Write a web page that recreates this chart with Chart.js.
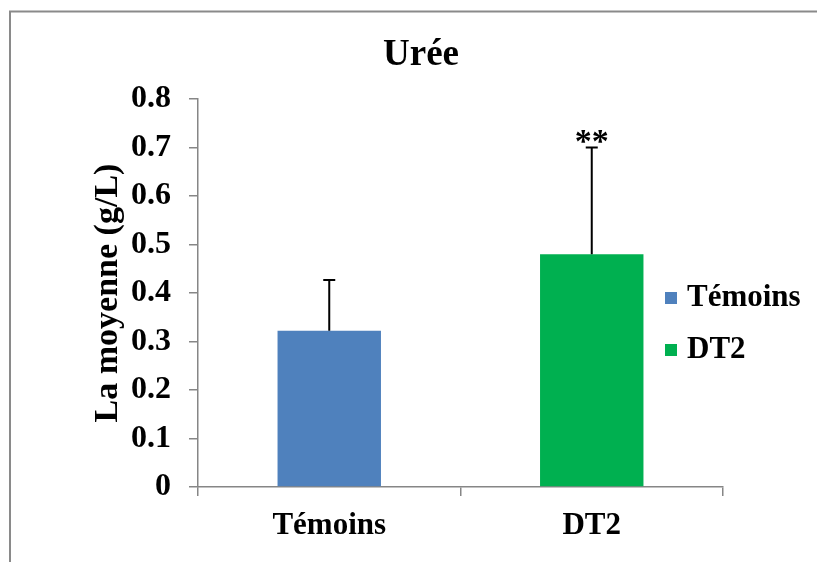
<!DOCTYPE html>
<html>
<head>
<meta charset="utf-8">
<script src="https://cdn.jsdelivr.net/npm/chart.js@4.4.1/dist/chart.umd.min.js"></script>
<style>
  html, body { margin: 0; padding: 0; background: #ffffff; }
  canvas { display: block; }
</style>
</head>
<body>
<canvas id="c" width="817" height="562"></canvas>
<script>
// ---- data ----
const categories = ['Témoins', 'DT2'];
const means = [0.322, 0.480];
const sds = [0.105, 0.220];
const significance = ['', '**'];
const barColors = ['#4F81BD', '#00B050'];
const yTickLabels = ['0', '0.1', '0.2', '0.3', '0.4', '0.5', '0.6', '0.7', '0.8'];
const chartTitle = 'Urée';
const yAxisTitle = 'La moyenne (g/L)';

const FONT = "'Liberation Serif', 'Times New Roman', serif";
const AXIS_GRAY = '#868686';

const framePlugin = {
  id: 'frame',
  beforeDraw(chart) {
    const ctx = chart.ctx;
    ctx.save();
    ctx.fillStyle = '#ffffff';
    ctx.fillRect(0, 0, chart.width, chart.height);
    ctx.strokeStyle = '#8a8a8a';
    ctx.lineWidth = 2;
    ctx.beginPath();
    ctx.moveTo(10, chart.height + 2);
    ctx.lineTo(10, 11.5);
    ctx.lineTo(chart.width + 2, 11.5);
    ctx.stroke();
    ctx.restore();
  },
  afterDraw(chart) {
    const ctx = chart.ctx;
    ctx.save();
    ctx.fillStyle = '#000000';
    ctx.font = 'bold 37px ' + FONT;
    ctx.textAlign = 'center';
    ctx.textBaseline = 'alphabetic';
    ctx.fillText(chartTitle, 421, 65);
    ctx.restore();
  }
};

const errorBarPlugin = {
  id: 'errorBars',
  afterDatasetsDraw(chart) {
    const ctx = chart.ctx;
    const meta = chart.getDatasetMeta(0);
    const y = chart.scales.y;
    ctx.save();
    ctx.strokeStyle = '#000000';
    ctx.lineWidth = 2;
    meta.data.forEach((bar, i) => {
      const x = bar.x;
      const yTop = y.getPixelForValue(means[i] + sds[i]);
      const yBar = y.getPixelForValue(means[i]);
      ctx.beginPath();
      ctx.moveTo(x, yBar);
      ctx.lineTo(x, yTop);
      ctx.moveTo(x - 6, yTop);
      ctx.lineTo(x + 6, yTop);
      ctx.stroke();
      if (significance[i]) {
        ctx.fillStyle = '#000000';
        ctx.font = 'bold 34px ' + FONT;
        ctx.textAlign = 'center';
        ctx.textBaseline = 'alphabetic';
        ctx.fillText(significance[i], x, yTop + 4);
      }
    });
    ctx.restore();
  }
};

const legendPlugin = {
  id: 'customLegend',
  afterDraw(chart) {
    const ctx = chart.ctx;
    ctx.save();
    ctx.font = 'bold 31px ' + FONT;
    ctx.textAlign = 'left';
    ctx.textBaseline = 'middle';
    const x0 = 665, y0 = 298, gap = 52;
    categories.forEach((c, i) => {
      const yc = y0 + i * gap;
      ctx.fillStyle = barColors[i];
      ctx.fillRect(x0, yc - 6, 12, 12);
      ctx.fillStyle = '#000000';
      ctx.fillText(c, x0 + 22, yc);
    });
    ctx.restore();
  }
};

new Chart(document.getElementById('c'), {
  type: 'bar',
  data: {
    labels: categories,
    datasets: [{
      data: means,
      backgroundColor: barColors,
      borderWidth: 0,
      barPercentage: 0.394,
      categoryPercentage: 1.0
    }]
  },
  options: {
    responsive: false,
    animation: false,
    layout: { padding: { top: 99, left: 0, right: 94, bottom: 0 } },
    plugins: {
      legend: { display: false },
      tooltip: { enabled: false },
      title: { display: false }
    },
    scales: {
      x: {
        grid: {
          display: true,
          drawOnChartArea: false,
          drawTicks: true,
          tickLength: 9,
          color: AXIS_GRAY,
          lineWidth: 1.5,
          offset: true
        },
        border: { display: true, color: AXIS_GRAY, width: 1.5 },
        ticks: {
          color: '#000000',
          font: { family: FONT, size: 31, weight: 'bold' },
          padding: 11
        },
        afterFit(scale) { scale.height = 75; }
      },
      y: {
        min: 0,
        max: 0.8,
        grid: {
          display: true,
          drawOnChartArea: false,
          drawTicks: true,
          tickLength: 9,
          color: AXIS_GRAY,
          lineWidth: 1.5
        },
        border: { display: true, color: AXIS_GRAY, width: 1.5 },
        ticks: {
          stepSize: 0.1,
          color: '#000000',
          font: { family: FONT, size: 32, weight: 'bold' },
          padding: 18,
          callback: (v, i) => yTickLabels[i]
        },
        title: {
          display: true,
          text: yAxisTitle,
          color: '#000000',
          font: { family: FONT, size: 34, weight: 'bold' },
          padding: { top: 88, bottom: 0 }
        },
        afterFit(scale) { scale.width = 198; }
      }
    }
  },
  plugins: [framePlugin, errorBarPlugin, legendPlugin]
});
</script>
</body>
</html>
